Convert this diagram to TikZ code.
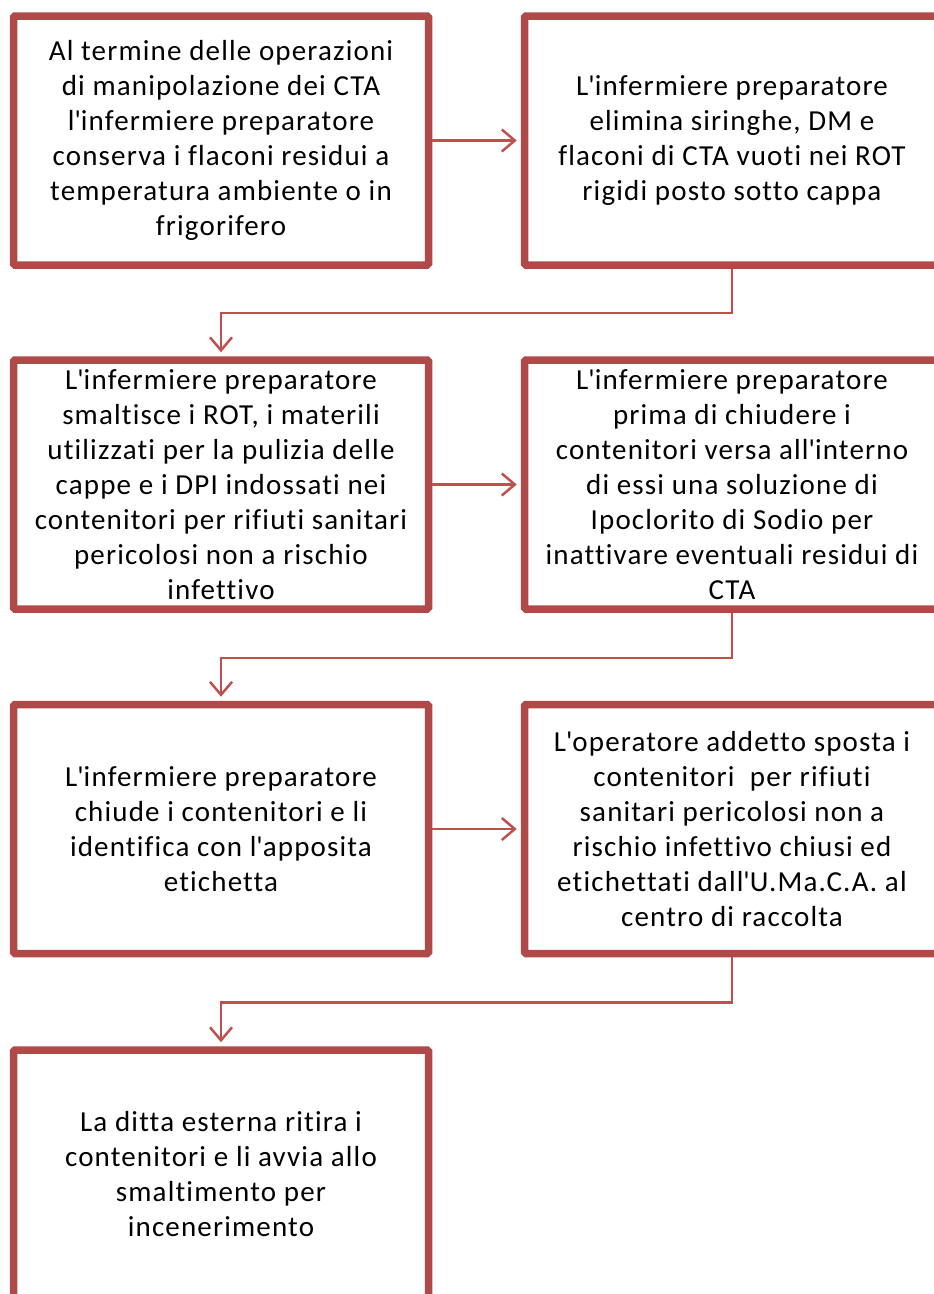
\documentclass[tikz,border=0pt]{standalone}
\usepackage{fontspec}
\setmainfont{Carlito}[Ligatures={NoCommon},LetterSpace=4]
\usetikzlibrary{arrows.meta}
\definecolor{boxred}{HTML}{B04A48}
\definecolor{linkred}{HTML}{C0504D}
\newcommand{\ap}{\textquotesingle}
\begin{document}
\begin{tikzpicture}[x=1pt,y=-1pt,
  stepbox/.style={draw=boxred, line width=7.5pt, rounded corners=1.5pt, fill=white,
    minimum width=415pt, minimum height=249pt, align=center, inner sep=0pt,
    font=\fontsize{29}{35}\selectfont},
  link/.style={draw=linkred, line width=2.5pt,
    -{Straight Barb[length=13pt,width=22pt]}, shorten >=4pt}
]
\useasboundingbox (0,0) rectangle (934,1294);
\clip (0,0) rectangle (934,1294);
\node[stepbox] (b1) at (221,140.5) {Al termine delle operazioni\\di manipolazione dei CTA\\l\ap infermiere preparatore\\conserva i flaconi residui a\\temperatura ambiente o in\\frigorifero};
\node[stepbox] (b2) at (732,140.5) {L\ap infermiere preparatore\\elimina siringhe, DM e\\flaconi di CTA vuoti nei ROT\\rigidi posto sotto cappa};
\node[stepbox] (b3) at (221,484.5) {L\ap infermiere preparatore\\smaltisce i ROT, i materili\\utilizzati per la pulizia delle\\cappe e i DPI indossati nei\\contenitori per rifiuti sanitari\\pericolosi non a rischio\\infettivo};
\node[stepbox] (b4) at (732,484.5) {L\ap infermiere preparatore\\prima di chiudere i\\contenitori versa all\ap interno\\di essi una soluzione di\\Ipoclorito di Sodio per\\inattivare eventuali residui di\\CTA};
\node[stepbox] (b5) at (221,829) {L\ap infermiere preparatore\\chiude i contenitori e li\\identifica con l\ap apposita\\etichetta};
\node[stepbox] (b6) at (732,829) {L\ap operatore addetto sposta i\\contenitori\ \ per rifiuti\\sanitari pericolosi non a\\rischio infettivo chiusi ed\\etichettati dall\ap U.Ma.C.A. al\\centro di raccolta};
\node[stepbox] (b7) at (221,1174.5) {La ditta esterna ritira i\\contenitori e li avvia allo\\smaltimento per\\incenerimento};
\draw[link] (b1.east) -- (b2.west);
\draw[link] (b3.east) -- (b4.west);
\draw[link] (b5.east) -- (b6.west);
\draw[link] (b2.south) -- ++(0,44) -| (b3.north);
\draw[link] (b4.south) -- ++(0,45) -| (b5.north);
\draw[link] (b6.south) -- ++(0,45) -| (b7.north);
\end{tikzpicture}
\end{document}
